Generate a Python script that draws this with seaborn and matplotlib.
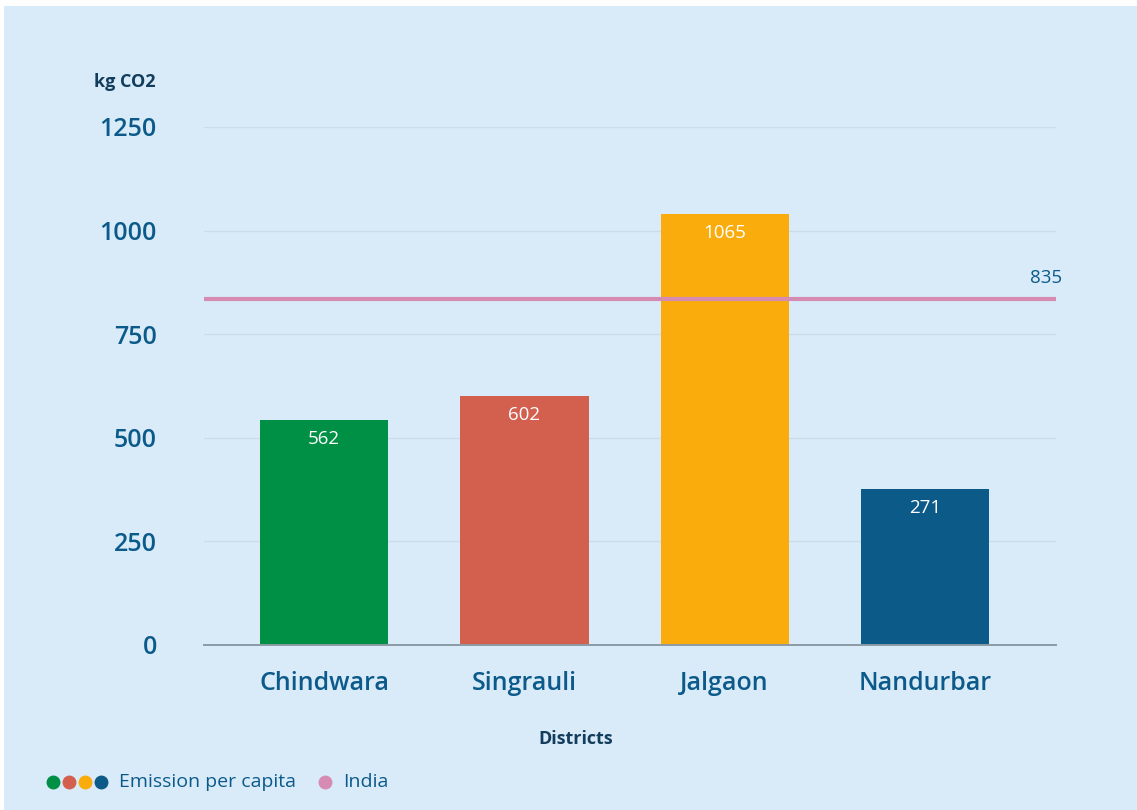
import matplotlib
matplotlib.use("Agg")
import matplotlib.pyplot as plt
from matplotlib.lines import Line2D
from matplotlib.patches import Rectangle
import seaborn as sns
import pandas as pd

# ---- data ----
districts = ["Chindwara", "Singrauli", "Jalgaon", "Nandurbar"]
bar_heights = [543, 601, 1040, 376]          # heights as drawn
bar_labels = ["562", "602", "1065", "271"]   # printed values
india_value = 835
india_label = "835"
y_ticks = [0, 250, 500, 750, 1000, 1250]

colors = ["#009045", "#D35F4F", "#F9AC0C", "#0C5A88"]
india_color = "#D68BB2"
bg = "#D9EBF9"
tick_color = "#0B5A8A"
title_color = "#123D5C"

sns.set_theme(style="white")
plt.rcParams["font.family"] = ["Open Sans", "DejaVu Sans"]

fig = plt.figure(figsize=(11.37, 8.10), dpi=100)
fig.patch.set_facecolor("white")
fig.add_artist(Rectangle((4 / 1137, 0), 1, 1 - 6 / 810, transform=fig.transFigure,
                         facecolor=bg, edgecolor="none", zorder=-10))

ax = fig.add_axes([204 / 1137, 1 - 645 / 810, 852 / 1137, 518 / 810])
ax.set_facecolor(bg)
ax.patch.set_alpha(0)

df = pd.DataFrame({"district": districts, "value": bar_heights})
sns.barplot(data=df, x="district", y="value", hue="district", order=districts,
            hue_order=districts, palette=colors, width=0.64, dodge=False,
            legend=False, ax=ax, saturation=1, zorder=3, linewidth=0)

ax.set_xlim(-0.6, 3.654)
ax.set_ylim(0, 1250)
ax.set_yticks(y_ticks)
ax.set_yticklabels([str(t) for t in y_ticks])
ax.grid(axis="y", color="#CCDCE8", linewidth=1, zorder=0)
ax.grid(axis="x", visible=False)
for s in ["top", "right", "left"]:
    ax.spines[s].set_visible(False)
ax.spines["bottom"].set_color("#8C9AA5")
ax.spines["bottom"].set_linewidth(1.4)
ax.spines["bottom"].set_zorder(4)

ax.tick_params(axis="y", length=0, pad=34, labelsize=18, labelcolor=tick_color)
ax.tick_params(axis="x", length=0, pad=19, labelsize=18, labelcolor=tick_color)
for t in ax.get_xticklabels() + ax.get_yticklabels():
    t.set_fontweight("semibold")
ax.set_xlabel("")
ax.set_ylabel("")

# India reference line
ax.axhline(india_value, color=india_color, linewidth=3, zorder=5)
ax.annotate(india_label, xy=(1.0, india_value), xycoords=("axes fraction", "data"),
            xytext=(6, 21), textcoords="offset pixels", ha="right", va="center",
            fontsize=13.5, color=tick_color)

# bar value labels
for i, (h, lab) in enumerate(zip(bar_heights, bar_labels)):
    ax.annotate(lab, xy=(i, h), xytext=(0, -19), textcoords="offset pixels",
                ha="center", va="center", fontsize=13.5, color="white", zorder=6)

# titles
fig.text(156 / 1137, 1 - 82 / 810, "kg CO2", ha="right", va="center",
         fontsize=13, fontweight="bold", color=title_color)
fig.text(576 / 1137, 1 - 739 / 810, "Districts", ha="center", va="center",
         fontsize=13, fontweight="bold", color=title_color)

# legend
ly = 1 - 782 / 810
for k, c in enumerate(colors):
    fig.add_artist(Line2D([(53 + 16 * k) / 1137], [ly], marker="o", markersize=9,
                          color=c, linestyle="none", transform=fig.transFigure))
fig.text(119 / 1137, ly, "Emission per capita", ha="left", va="center",
         fontsize=14, color=tick_color, fontweight="medium")
fig.add_artist(Line2D([325 / 1137], [ly], marker="o", markersize=9,
                      color=india_color, linestyle="none", transform=fig.transFigure))
fig.text(343 / 1137, ly, "India", ha="left", va="center", fontsize=14,
         color=tick_color, fontweight="medium")

fig.savefig("out.png", dpi=100, facecolor=fig.get_facecolor())
